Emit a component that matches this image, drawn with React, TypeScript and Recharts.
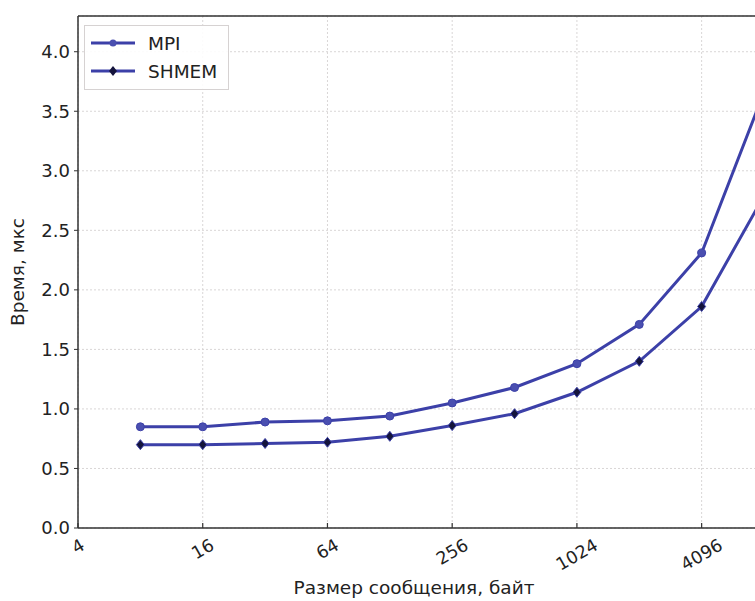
import { LineChart, Line, XAxis, YAxis, CartesianGrid, ReferenceLine, Label } from "recharts";

const sizes = [8, 16, 32, 64, 128, 256, 512, 1024, 2048, 4096, 8192];
const mpiTimes = [0.85, 0.85, 0.89, 0.9, 0.94, 1.05, 1.18, 1.38, 1.71, 2.31, 3.66];
const shmemTimes = [0.7, 0.7, 0.71, 0.72, 0.77, 0.86, 0.96, 1.14, 1.4, 1.86, 2.79];
const xTicks = [4, 16, 64, 256, 1024, 4096];
const yTicks = [0, 0.5, 1, 1.5, 2, 2.5, 3, 3.5, 4];
const seriesNames = ["MPI", "SHMEM"];

const LINE_COLOR = "#3c40a8";
const FONT = "'DejaVu Sans', sans-serif";

const data = sizes.map((size, i) => ({ size, mpi: mpiTimes[i], shmem: shmemTimes[i] }));

// rotated x tick, tick mark drawn inside the plot like matplotlib
function XTick({ x, y, payload }: any) {
  const label = String(payload.value);
  const fs = 17.5;
  const w = label.length * 0.636 * fs;
  const cy = y + 9 + (w / 2) * 0.5 + 6.5;
  return (
    <g>
      <line x1={x} x2={x} y1={y - 5} y2={y} stroke="#333" strokeWidth={1.2} />
      <text
        x={x}
        y={cy}
        textAnchor="middle"
        dominantBaseline="central"
        fontSize={fs}
        fontFamily={FONT}
        fill="#222"
        transform={`rotate(-30 ${x} ${cy})`}
      >
        {label}
      </text>
    </g>
  );
}

function MpiDot({ cx, cy }: any) {
  if (cx == null || cy == null) return null;
  return <circle cx={cx} cy={cy} r={4} fill="#4a4fb0" stroke={LINE_COLOR} strokeWidth={1} />;
}

function ShmemDot({ cx, cy }: any) {
  if (cx == null || cy == null) return null;
  return (
    <polygon
      points={`${cx},${cy - 5} ${cx + 4},${cy} ${cx},${cy + 5} ${cx - 4},${cy}`}
      fill="#14143c"
      stroke={LINE_COLOR}
      strokeWidth={1}
    />
  );
}

function LegendBox() {
  const row = (name: string, marker: "circle" | "diamond") => (
    <div key={name} style={{ display: "flex", alignItems: "center", height: 28 }}>
      <svg width={44} height={14} style={{ marginRight: 13 }}>
        <line x1={0} x2={44} y1={7} y2={7} stroke={LINE_COLOR} strokeWidth={3} />
        {marker === "circle" ? (
          <circle cx={22} cy={7} r={3.5} fill="#4a4fb0" />
        ) : (
          <polygon points="22,2 26,7 22,12 18,7" fill="#14143c" />
        )}
      </svg>
      <span style={{ fontFamily: FONT, fontSize: 18.5, color: "#222" }}>{name}</span>
    </div>
  );
  return (
    <div
      style={{
        position: "absolute",
        left: 84,
        top: 25,
        width: 137,
        height: 57,
        padding: "3px 0 3px 6px",
        border: "1px solid #d6d2d2",
        background: "rgba(255,255,255,0.9)",
      }}
    >
      {row(seriesNames[0], "circle")}
      {row(seriesNames[1], "diamond")}
    </div>
  );
}

export default function App() {
  return (
    <div
      style={{
        position: "absolute",
        left: 0,
        top: 0,
        width: 755,
        height: 601,
        overflow: "hidden",
        background: "#fff",
      }}
    >
      <LineChart width={800} height={601} data={data} margin={{ top: 16, right: 36, left: 0, bottom: 0 }}>
        <CartesianGrid stroke="#d9d6d6" strokeDasharray="2 2" />
        <XAxis
          dataKey="size"
          type="number"
          scale="log"
          domain={[4, 8192]}
          allowDataOverflow
          ticks={xTicks}
          interval={0}
          height={73}
          tickSize={0}
          tickMargin={0}
          tickLine={false}
          axisLine={{ stroke: "#333", strokeWidth: 1.5 }}
          tick={<XTick />}
        >
          <Label
            content={() => (
              <text x={414} y={594} textAnchor="middle" fontSize={18.5} fontFamily={FONT} fill="#222">
                Размер сообщения, байт
              </text>
            )}
          />
        </XAxis>
        <YAxis
          type="number"
          domain={[0, 4.3]}
          allowDataOverflow
          ticks={yTicks}
          interval={0}
          width={78}
          tickSize={4}
          tickMargin={4}
          tickFormatter={(v: number) => v.toFixed(1)}
          tick={{ fontSize: 18, fontFamily: FONT, fill: "#222" }}
          tickLine={{ stroke: "#333" }}
          axisLine={{ stroke: "#333", strokeWidth: 1.5 }}
        >
          <Label
            content={({ viewBox }: any) => {
              const cy = viewBox.y + viewBox.height / 2;
              return (
                <text
                  x={17}
                  y={cy}
                  textAnchor="middle"
                  dominantBaseline="central"
                  fontSize={18.5}
                  fontFamily={FONT}
                  fill="#222"
                  transform={`rotate(-90 17 ${cy})`}
                >
                  Время, мкс
                </text>
              );
            }}
          />
        </YAxis>
        <ReferenceLine y={4.3} stroke="#333" strokeWidth={1.5} ifOverflow="extendDomain" />
        <Line
          type="linear"
          dataKey="mpi"
          name={seriesNames[0]}
          stroke={LINE_COLOR}
          strokeWidth={3}
          dot={<MpiDot />}
          activeDot={false}
          isAnimationActive={false}
        />
        <Line
          type="linear"
          dataKey="shmem"
          name={seriesNames[1]}
          stroke={LINE_COLOR}
          strokeWidth={3}
          dot={<ShmemDot />}
          activeDot={false}
          isAnimationActive={false}
        />
      </LineChart>
      <LegendBox />
    </div>
  );
}
